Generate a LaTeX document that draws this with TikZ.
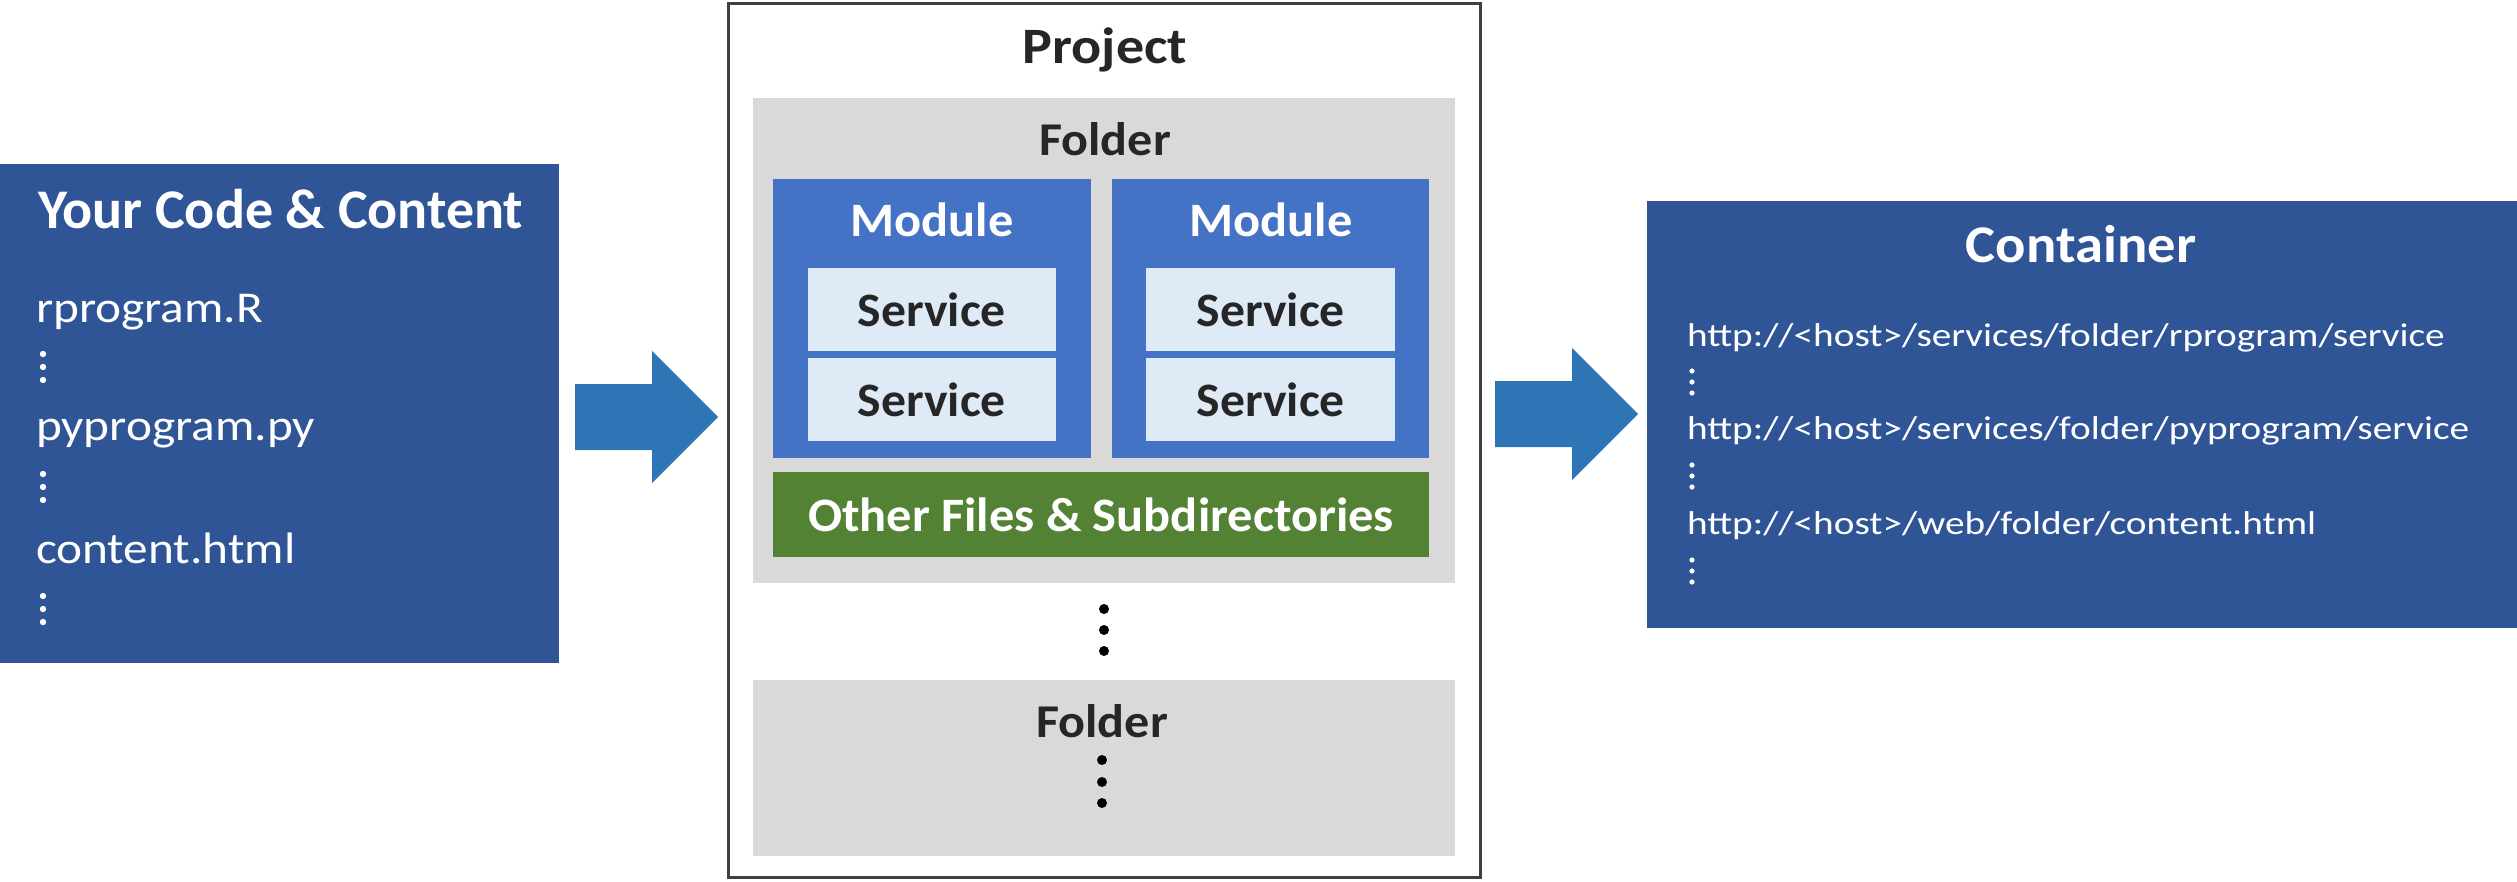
\documentclass[tikz,border=0pt]{standalone}
\usepackage{graphicx}
\usepackage{fontspec}
\setmainfont{Carlito}
\definecolor{leftblue}{HTML}{2F5597}
\definecolor{modblue}{HTML}{4472C4}
\definecolor{servfill}{HTML}{DEEBF7}
\definecolor{folderg}{HTML}{D9D9D9}
\definecolor{greenbox}{HTML}{548235}
\definecolor{arrowc}{HTML}{2E75B6}
\definecolor{darktext}{HTML}{262626}
\definecolor{bordc}{HTML}{404040}
\tikzset{
  box/.style={inner sep=0pt, outer sep=0pt, anchor=north west},
  lbl/.style={inner sep=0pt, outer sep=0pt, anchor=base},
  lblw/.style={inner sep=0pt, outer sep=0pt, anchor=base west},
  wdot/.style={fill=white, draw=none},
  bdot/.style={fill=black, draw=none},
}
\newcommand{\xs}[2]{\scalebox{#1}[1]{#2}}
\begin{document}
\begin{tikzpicture}[x=1pt,y=-1pt]
\useasboundingbox (0,0) rectangle (2517,881);
% left box
\node[box, fill=leftblue, minimum width=559pt, minimum height=499pt] (code) at (0,164) {};
\node[lblw, text=white, font=\bfseries\fontsize{56}{60}\selectfont] (codet) at (38,228) {Your Code \& Content};
\node[lblw, text=white, font=\fontsize{44}{50}\selectfont] (f1) at (36,322) {\xs{1.12}{rprogram.R}};
\node[lblw, text=white, font=\fontsize{44}{50}\selectfont] (f2) at (36,440) {\xs{1.12}{pyprogram.py}};
\node[lblw, text=white, font=\fontsize{44}{50}\selectfont] (f3) at (36,563) {\xs{1.12}{content.html}};
\foreach \y in {354,367,380,474,487,500,596,609,622} \fill[wdot] (43,\y) circle (3.2pt);
% project
\node[box, draw=bordc, line width=3pt, minimum width=752pt, minimum height=874pt, anchor=center] (proj) at (1104.5,440.5) {};
\node[lbl, text=darktext, font=\bfseries\fontsize{51}{55}\selectfont] (projt) at (1105,63) {\xs{1.1}{Project}};
\node[box, fill=folderg, minimum width=702pt, minimum height=485pt] (fold1) at (753,98) {};
\node[lbl, text=darktext, font=\bfseries\fontsize{47}{50}\selectfont] (fold1t) at (1105,155) {\xs{1.067}{Folder}};
\node[box, fill=modblue, minimum width=318pt, minimum height=279pt] (mod1) at (773,179) {};
\node[box, fill=modblue, minimum width=317pt, minimum height=279pt] (mod2) at (1112,179) {};
\node[lbl, text=white, font=\bfseries\fontsize{48}{50}\selectfont] (mod1t) at (932,236) {\xs{1.05}{Module}};
\node[lbl, text=white, font=\bfseries\fontsize{48}{50}\selectfont] (mod2t) at (1271,236) {\xs{1.05}{Module}};
\node[box, fill=servfill, minimum width=248pt, minimum height=83pt] (s11) at (808,268) {};
\node[box, fill=servfill, minimum width=248pt, minimum height=83pt] (s12) at (808,358) {};
\node[box, fill=servfill, minimum width=249pt, minimum height=83pt] (s21) at (1146,268) {};
\node[box, fill=servfill, minimum width=249pt, minimum height=83pt] (s22) at (1146,358) {};
\node[lbl, text=darktext, font=\bfseries\fontsize{48}{50}\selectfont] (s11t) at (932,326) {\xs{1.035}{Service}};
\node[lbl, text=darktext, font=\bfseries\fontsize{48}{50}\selectfont] (s12t) at (932,416) {\xs{1.035}{Service}};
\node[lbl, text=darktext, font=\bfseries\fontsize{48}{50}\selectfont] (s21t) at (1271,326) {\xs{1.035}{Service}};
\node[lbl, text=darktext, font=\bfseries\fontsize{48}{50}\selectfont] (s22t) at (1271,416) {\xs{1.035}{Service}};
\node[box, fill=greenbox, minimum width=656pt, minimum height=85pt] (other) at (773,472) {};
\node[lbl, text=white, font=\bfseries\fontsize{48}{50}\selectfont] (othert) at (1101,531) {\xs{1.05}{Other Files \& Subdirectories}};
\foreach \y in {609,630,651} \fill[bdot] (1104,\y) circle (5pt);
\node[box, fill=folderg, minimum width=702pt, minimum height=176pt] (fold2) at (753,680) {};
\node[lbl, text=darktext, font=\bfseries\fontsize{47}{50}\selectfont] (fold2t) at (1102,737) {\xs{1.067}{Folder}};
\foreach \y in {760,782,803} \fill[bdot] (1102,\y) circle (5pt);
% container
\node[box, fill=leftblue, minimum width=870pt, minimum height=427pt] (cont) at (1647,201) {};
\node[lbl, text=white, font=\bfseries\fontsize{53}{56}\selectfont] (contt) at (2081,262) {\xs{1.068}{Container}};
\node[lblw, text=white, font=\fontsize{33}{36}\selectfont] (u1) at (1687,346) {\xs{1.19}{http://<host>/services/folder/rprogram/service}};
\node[lblw, text=white, font=\fontsize{33}{36}\selectfont] (u2) at (1687,439) {\xs{1.19}{http://<host>/services/folder/pyprogram/service}};
\node[lblw, text=white, font=\fontsize{33}{36}\selectfont] (u3) at (1687,534) {\xs{1.19}{http://<host>/web/folder/content.html}};
\foreach \y in {371,382,393,465,476,487,560,571,582} \fill[wdot] (1692,\y) circle (2.6pt);
% block arrows
\fill[arrowc] (575,384) -- (652,384) -- (652,351) -- (718,417) -- (652,483) -- (652,450) -- (575,450) -- cycle;
\fill[arrowc] (1495,381) -- (1572,381) -- (1572,348) -- (1638,414) -- (1572,480) -- (1572,447) -- (1495,447) -- cycle;
\end{tikzpicture}
\end{document}
